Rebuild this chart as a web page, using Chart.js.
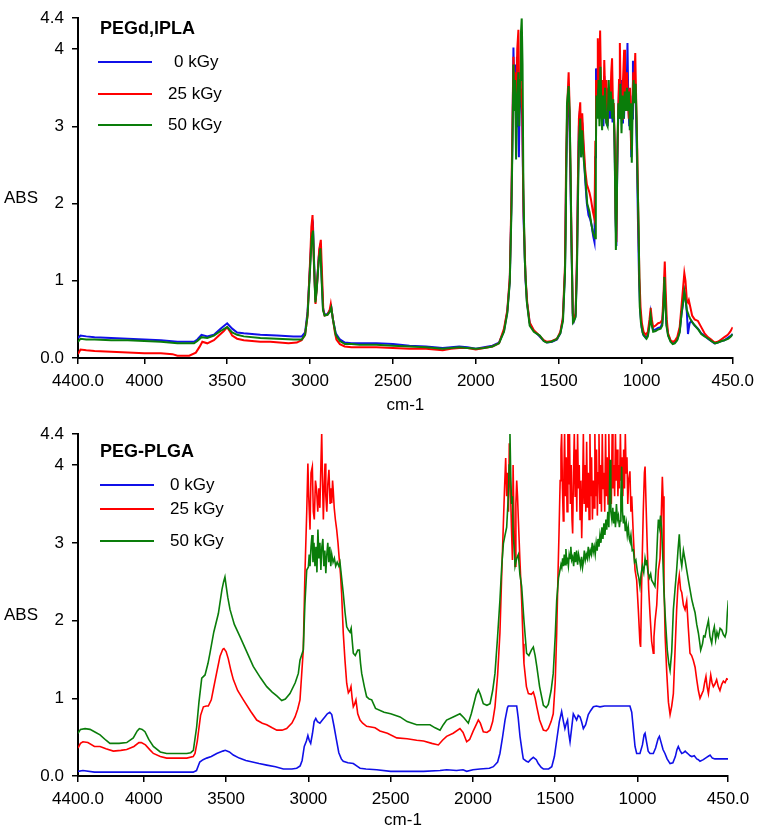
<!DOCTYPE html>
<html><head><meta charset="utf-8">
<script src="https://cdn.jsdelivr.net/npm/chart.js@4/dist/chart.umd.min.js"></script>
<style>
html,body{margin:0;padding:0;background:#fff;}
#wrap{position:relative;width:761px;height:829px;overflow:hidden;}
.panel{position:absolute;left:0;width:761px;}
</style></head><body>
<div id="wrap">
<div class="panel" style="top:0;height:414px"><canvas id="c1" width="761" height="414"></canvas></div>
<div class="panel" style="top:414px;height:415px"><canvas id="c2" width="761" height="415"></canvas></div>
</div>
<script>
// ---------- tick labels ----------
const xTicks = [4400, 4000, 3500, 3000, 2500, 2000, 1500, 1000, 450];
const xTickLabels = ["4400.0", "4000", "3500", "3000", "2500", "2000", "1500", "1000", "450.0"];
const yTicks = [0, 1, 2, 3, 4, 4.4];
const yTickLabels = ["0.0", "1", "2", "3", "4", "4.4"];
const seriesLabels = ["0 kGy", "25 kGy", "50 kGy"];
const panelTitles = ["PEGd,lPLA", "PEG-PLGA"];

// ---------- PEGd,lPLA : [wavenumber, ABS] ----------
const pegdlpla_0kGy = [[4400,0.26],[4385,0.29],[4350,0.28],[4300,0.27],[4200,0.26],[4100,0.25],[4000,0.24],[3900,0.23],[3800,0.21],[3700,0.21],[3680,0.24],[3655,0.30],[3620,0.28],[3580,0.30],[3540,0.38],[3500,0.45],[3470,0.38],[3440,0.33],[3400,0.32],[3300,0.30],[3200,0.29],[3100,0.28],[3050,0.28],[3030,0.33],[3015,0.60],[3000,1.20],[2990,1.62],[2982,1.70],[2975,1.20],[2968,0.75],[2960,0.90],[2948,1.30],[2938,1.48],[2930,1.05],[2922,0.65],[2912,0.56],[2895,0.57],[2880,0.62],[2872,0.66],[2862,0.50],[2845,0.32],[2820,0.24],[2790,0.20],[2750,0.19],[2700,0.19],[2600,0.19],[2500,0.18],[2400,0.16],[2300,0.15],[2200,0.13],[2150,0.14],[2100,0.15],[2050,0.14],[2000,0.12],[1950,0.14],[1900,0.16],[1860,0.20],[1830,0.35],[1810,0.60],[1795,1.00],[1785,2.00],[1778,3.00],[1773,4.02],[1768,3.40],[1763,3.80],[1757,3.00],[1752,3.90],[1745,3.30],[1740,2.60],[1735,3.50],[1728,3.40],[1720,3.10],[1712,1.80],[1700,1.00],[1690,0.70],[1675,0.45],[1650,0.35],[1620,0.29],[1590,0.22],[1570,0.20],[1540,0.21],[1510,0.24],[1490,0.32],[1475,0.50],[1462,1.10],[1455,2.40],[1448,3.10],[1442,3.45],[1436,3.20],[1430,2.40],[1422,1.40],[1415,0.55],[1408,0.48],[1398,0.55],[1390,1.20],[1384,2.20],[1378,3.00],[1372,3.20],[1365,2.60],[1358,3.05],[1350,2.70],[1340,2.30],[1330,2.00],[1320,1.85],[1310,1.80],[1300,1.70],[1292,1.58],[1284,1.50],[1279,2.60],[1275,3.75],[1268,3.30],[1262,3.70],[1256,3.15],[1250,3.55],[1243,3.10],[1237,3.35],[1230,3.00],[1225,3.65],[1218,3.20],[1212,3.45],[1205,3.00],[1198,3.30],[1190,3.10],[1182,3.40],[1175,3.05],[1168,3.20],[1162,2.70],[1157,1.80],[1152,1.45],[1147,2.40],[1142,3.00],[1136,3.50],[1130,3.10],[1124,3.60],[1118,3.05],[1112,3.55],[1106,3.10],[1100,3.50],[1094,3.20],[1088,3.70],[1085,4.08],[1080,3.30],[1074,3.00],[1068,3.40],[1062,2.60],[1057,3.10],[1052,3.85],[1046,3.40],[1040,3.60],[1034,3.20],[1028,2.60],[1022,1.80],[1015,1.00],[1008,0.60],[1000,0.40],[990,0.30],[975,0.26],[962,0.30],[952,0.45],[945,0.58],[938,0.45],[930,0.36],[915,0.37],[900,0.39],[885,0.40],[875,0.45],[868,0.70],[862,1.05],[857,0.80],[850,0.45],[840,0.30],[825,0.22],[812,0.19],[800,0.20],[785,0.24],[770,0.35],[760,0.55],[750,0.70],[742,0.86],[735,0.78],[727,0.60],[720,0.31],[714,0.40],[710,0.45],[700,0.48],[680,0.42],[660,0.38],[640,0.32],[620,0.29],[600,0.25],[580,0.22],[560,0.19],[540,0.20],[520,0.22],[500,0.23],[480,0.26],[460,0.29],[450,0.31]];

const pegdlpla_25kGy = [[4400,0.05],[4385,0.11],[4350,0.10],[4300,0.09],[4200,0.08],[4100,0.07],[4000,0.06],[3900,0.06],[3830,0.05],[3800,0.03],[3729,0.03],[3689,0.07],[3665,0.15],[3650,0.21],[3620,0.19],[3580,0.23],[3550,0.29],[3520,0.35],[3500,0.40],[3480,0.33],[3470,0.29],[3440,0.25],[3400,0.23],[3300,0.21],[3240,0.21],[3130,0.19],[3080,0.20],[3051,0.23],[3030,0.30],[3015,0.55],[3000,1.25],[2992,1.70],[2985,1.85],[2978,1.30],[2967,0.70],[2958,0.95],[2945,1.40],[2935,1.53],[2928,1.10],[2920,0.62],[2912,0.55],[2895,0.56],[2882,0.62],[2875,0.70],[2865,0.55],[2850,0.33],[2841,0.24],[2820,0.18],[2791,0.15],[2750,0.14],[2700,0.14],[2600,0.14],[2500,0.13],[2400,0.12],[2300,0.12],[2200,0.10],[2150,0.12],[2100,0.13],[2050,0.13],[2000,0.11],[1950,0.13],[1900,0.15],[1860,0.19],[1830,0.38],[1810,0.62],[1795,1.05],[1785,2.10],[1778,3.20],[1773,3.90],[1768,3.60],[1763,3.70],[1757,3.20],[1750,4.00],[1743,4.25],[1738,3.40],[1733,3.70],[1728,3.50],[1720,3.20],[1712,1.90],[1700,1.05],[1690,0.72],[1675,0.46],[1650,0.36],[1620,0.30],[1590,0.23],[1570,0.21],[1540,0.22],[1510,0.25],[1490,0.34],[1475,0.52],[1462,1.20],[1455,2.60],[1448,3.30],[1440,3.70],[1436,3.40],[1430,2.60],[1422,1.50],[1415,0.58],[1408,0.50],[1398,0.58],[1390,1.30],[1384,2.30],[1378,3.10],[1370,3.31],[1365,2.80],[1358,3.17],[1350,2.80],[1340,2.44],[1330,2.25],[1314,2.14],[1305,2.05],[1294,1.90],[1284,1.80],[1279,2.80],[1275,3.60],[1268,3.50],[1264,4.14],[1258,3.40],[1250,4.24],[1243,3.30],[1237,3.60],[1230,3.10],[1225,3.86],[1218,3.30],[1212,3.60],[1205,3.05],[1198,3.50],[1190,3.20],[1183,3.70],[1178,3.88],[1172,3.20],[1168,3.30],[1162,2.80],[1157,1.90],[1152,1.50],[1147,2.50],[1142,3.10],[1136,3.60],[1131,4.08],[1125,3.30],[1118,3.10],[1112,3.60],[1105,3.99],[1100,3.30],[1094,3.20],[1088,3.70],[1083,3.40],[1077,3.10],[1070,3.50],[1063,2.70],[1057,3.20],[1050,3.70],[1045,3.50],[1038,3.95],[1032,3.30],[1026,2.70],[1020,1.90],[1013,1.05],[1006,0.65],[998,0.45],[988,0.34],[975,0.30],[962,0.34],[952,0.50],[945,0.65],[938,0.50],[930,0.40],[915,0.42],[900,0.45],[885,0.46],[875,0.50],[868,0.80],[860,1.25],[855,0.90],[848,0.50],[840,0.32],[825,0.23],[812,0.21],[800,0.22],[785,0.27],[770,0.40],[760,0.65],[750,0.90],[742,1.10],[735,1.00],[727,0.75],[720,0.72],[715,0.75],[705,0.65],[695,0.55],[680,0.50],[660,0.48],[640,0.40],[620,0.32],[600,0.27],[580,0.24],[560,0.20],[540,0.21],[520,0.24],[500,0.27],[480,0.30],[465,0.34],[450,0.40]];

const pegdlpla_50kGy = [[4400,0.21],[4385,0.25],[4350,0.24],[4300,0.24],[4200,0.23],[4100,0.23],[4000,0.22],[3900,0.21],[3800,0.19],[3700,0.19],[3680,0.22],[3655,0.27],[3620,0.26],[3580,0.29],[3540,0.35],[3500,0.40],[3470,0.33],[3440,0.30],[3400,0.28],[3300,0.26],[3200,0.25],[3100,0.24],[3050,0.24],[3030,0.30],[3015,0.55],[3000,1.15],[2990,1.55],[2982,1.65],[2975,1.15],[2968,0.72],[2960,0.88],[2948,1.25],[2938,1.42],[2930,1.00],[2922,0.62],[2912,0.55],[2895,0.56],[2880,0.60],[2872,0.65],[2862,0.50],[2845,0.30],[2820,0.22],[2790,0.18],[2750,0.18],[2700,0.17],[2600,0.17],[2500,0.16],[2400,0.15],[2300,0.14],[2200,0.12],[2150,0.13],[2100,0.14],[2050,0.13],[2000,0.12],[1950,0.13],[1900,0.15],[1860,0.19],[1830,0.34],[1810,0.58],[1795,0.98],[1785,1.90],[1778,2.90],[1773,3.80],[1768,3.20],[1763,3.60],[1757,2.57],[1750,3.40],[1743,3.70],[1738,3.00],[1733,3.60],[1728,4.20],[1723,4.40],[1718,3.80],[1713,2.20],[1705,1.30],[1693,0.74],[1675,0.42],[1650,0.34],[1614,0.29],[1590,0.22],[1574,0.20],[1545,0.21],[1514,0.24],[1490,0.32],[1474,0.48],[1462,1.10],[1458,1.59],[1450,3.29],[1440,3.52],[1434,3.20],[1428,2.40],[1424,1.60],[1414,0.46],[1408,0.48],[1398,0.53],[1390,1.10],[1384,2.00],[1378,2.80],[1370,3.10],[1364,2.60],[1358,2.95],[1350,2.60],[1338,2.30],[1328,2.00],[1314,1.89],[1304,1.75],[1294,1.63],[1286,1.58],[1280,1.55],[1276,2.60],[1272,3.40],[1266,3.10],[1260,3.60],[1254,3.00],[1248,3.77],[1242,3.20],[1238,2.95],[1232,3.40],[1226,3.10],[1220,3.50],[1214,3.05],[1205,3.00],[1198,3.60],[1192,3.20],[1185,3.45],[1178,3.10],[1171,3.35],[1164,2.89],[1158,2.00],[1155,1.40],[1150,1.90],[1145,2.78],[1140,3.30],[1134,3.10],[1128,3.55],[1121,2.91],[1115,3.40],[1108,3.10],[1101,3.45],[1095,3.20],[1088,3.50],[1082,3.20],[1076,3.45],[1071,2.95],[1065,3.30],[1059,2.53],[1054,3.20],[1048,3.60],[1042,3.30],[1036,3.55],[1030,3.10],[1025,2.40],[1018,1.70],[1011,0.67],[1004,0.46],[994,0.33],[985,0.29],[970,0.25],[962,0.28],[952,0.42],[945,0.55],[938,0.42],[930,0.34],[915,0.35],[900,0.37],[885,0.38],[875,0.42],[868,0.65],[862,1.05],[857,0.75],[850,0.42],[840,0.29],[825,0.21],[812,0.18],[800,0.19],[785,0.23],[770,0.33],[759,0.57],[750,0.72],[742,0.86],[735,0.76],[727,0.62],[715,0.55],[705,0.50],[690,0.45],[670,0.40],[655,0.36],[640,0.31],[620,0.28],[596,0.25],[580,0.22],[556,0.19],[540,0.20],[516,0.22],[500,0.23],[476,0.25],[460,0.28],[450,0.31]];

// ---------- PEG-PLGA : [wavenumber, ABS] ----------
const pegplga_0kGy = [[4400,0.06],[4370,0.07],[4300,0.05],[4200,0.05],[4000,0.05],[3800,0.05],[3700,0.05],[3680,0.07],[3660,0.18],[3640,0.21],[3618,0.23],[3590,0.25],[3557,0.29],[3520,0.32],[3505,0.33],[3480,0.31],[3456,0.27],[3420,0.23],[3380,0.20],[3340,0.18],[3300,0.16],[3253,0.14],[3200,0.12],[3152,0.09],[3100,0.09],[3071,0.10],[3050,0.13],[3038,0.20],[3025,0.38],[3012,0.45],[3003,0.52],[2995,0.46],[2986,0.42],[2975,0.55],[2965,0.70],[2955,0.74],[2945,0.70],[2930,0.68],[2915,0.72],[2900,0.76],[2885,0.80],[2870,0.82],[2858,0.79],[2845,0.65],[2830,0.47],[2815,0.30],[2800,0.22],[2788,0.19],[2760,0.17],[2727,0.16],[2700,0.12],[2686,0.10],[2650,0.09],[2585,0.08],[2500,0.06],[2400,0.06],[2300,0.06],[2200,0.07],[2160,0.08],[2100,0.07],[2060,0.08],[2038,0.06],[2000,0.08],[1957,0.09],[1900,0.10],[1876,0.12],[1850,0.18],[1836,0.29],[1820,0.50],[1805,0.72],[1790,0.88],[1785,0.90],[1760,0.90],[1734,0.90],[1725,0.75],[1714,0.51],[1700,0.30],[1694,0.22],[1675,0.19],[1663,0.18],[1650,0.21],[1633,0.24],[1615,0.21],[1603,0.16],[1585,0.11],[1572,0.09],[1540,0.09],[1521,0.12],[1505,0.25],[1491,0.46],[1475,0.70],[1461,0.83],[1450,0.70],[1441,0.61],[1432,0.68],[1425,0.72],[1418,0.55],[1410,0.44],[1400,0.62],[1390,0.80],[1380,0.76],[1370,0.72],[1360,0.78],[1349,0.76],[1340,0.70],[1329,0.61],[1315,0.66],[1299,0.79],[1285,0.84],[1268,0.89],[1250,0.90],[1228,0.89],[1200,0.90],[1150,0.90],[1100,0.90],[1070,0.90],[1046,0.90],[1035,0.82],[1025,0.60],[1015,0.38],[1005,0.29],[985,0.29],[970,0.40],[960,0.53],[954,0.55],[945,0.44],[935,0.32],[924,0.29],[904,0.29],[890,0.36],[875,0.48],[867,0.51],[855,0.42],[845,0.34],[833,0.29],[820,0.22],[802,0.16],[785,0.17],[770,0.25],[760,0.34],[752,0.38],[742,0.33],[731,0.29],[720,0.30],[710,0.32],[701,0.30],[690,0.28],[680,0.26],[670,0.25],[655,0.26],[640,0.22],[630,0.21],[620,0.19],[600,0.21],[580,0.24],[565,0.26],[559,0.27],[545,0.23],[530,0.22],[500,0.22],[448,0.22]];

const pegplga_25kGy = [[4400,0.36],[4385,0.42],[4370,0.44],[4340,0.43],[4300,0.38],[4266,0.38],[4230,0.35],[4185,0.32],[4140,0.33],[4104,0.34],[4060,0.38],[4030,0.43],[4015,0.43],[3990,0.40],[3960,0.33],[3942,0.29],[3900,0.25],[3861,0.23],[3800,0.23],[3739,0.23],[3700,0.25],[3689,0.29],[3675,0.45],[3669,0.55],[3655,0.78],[3638,0.89],[3620,0.90],[3608,0.90],[3590,0.98],[3578,1.11],[3560,1.30],[3537,1.54],[3520,1.63],[3513,1.64],[3500,1.60],[3487,1.51],[3470,1.35],[3456,1.24],[3430,1.10],[3395,0.98],[3350,0.83],[3314,0.72],[3280,0.68],[3253,0.66],[3220,0.62],[3192,0.59],[3160,0.59],[3132,0.61],[3100,0.68],[3081,0.76],[3065,0.86],[3051,0.98],[3041,1.30],[3031,1.62],[3021,2.60],[3010,3.40],[3003,4.02],[2998,3.60],[2990,3.17],[2984,3.90],[2976,3.98],[2970,3.40],[2964,3.30],[2957,3.80],[2950,3.68],[2943,3.40],[2936,3.70],[2930,3.45],[2924,4.00],[2919,4.41],[2914,3.80],[2909,3.30],[2904,3.70],[2899,4.02],[2894,3.60],[2888,3.40],[2882,3.75],[2875,3.94],[2868,3.50],[2862,3.70],[2858,3.51],[2853,3.80],[2849,3.68],[2843,3.45],[2836,3.30],[2828,3.17],[2820,3.00],[2812,2.78],[2805,2.60],[2798,2.35],[2788,1.84],[2778,1.50],[2767,1.19],[2757,1.07],[2748,1.10],[2741,1.15],[2734,1.00],[2727,0.89],[2720,0.92],[2711,0.98],[2700,0.80],[2686,0.72],[2670,0.68],[2646,0.64],[2620,0.63],[2595,0.62],[2565,0.58],[2520,0.55],[2463,0.49],[2400,0.48],[2342,0.46],[2300,0.45],[2250,0.42],[2210,0.40],[2185,0.46],[2160,0.51],[2120,0.55],[2079,0.61],[2060,0.56],[2038,0.44],[2020,0.47],[1998,0.58],[1980,0.66],[1967,0.72],[1955,0.68],[1937,0.57],[1915,0.56],[1896,0.59],[1880,0.70],[1866,0.89],[1850,1.30],[1836,1.84],[1825,2.60],[1815,3.25],[1808,3.70],[1801,4.09],[1795,3.60],[1790,3.90],[1784,3.40],[1779,4.28],[1772,3.70],[1766,3.20],[1760,2.78],[1756,4.00],[1750,3.20],[1744,2.70],[1739,3.50],[1734,3.80],[1729,3.60],[1724,3.30],[1715,2.80],[1704,2.26],[1695,1.70],[1690,1.45],[1675,1.15],[1663,1.06],[1645,1.05],[1633,1.08],[1622,1.00],[1612,0.89],[1595,0.72],[1572,0.59],[1555,0.58],[1542,0.61],[1525,0.70],[1512,0.80],[1500,1.20],[1491,1.84],[1483,2.60],[1477,3.12],[1470,3.80],[1465,4.20],[1461,4.41],[1456,3.70],[1451,3.28],[1447,3.90],[1443,4.41],[1438,3.60],[1433,4.10],[1428,3.40],[1423,4.41],[1418,3.75],[1413,4.41],[1408,3.50],[1403,4.00],[1398,3.30],[1394,3.12],[1389,3.90],[1384,4.41],[1379,3.60],[1374,4.20],[1369,3.40],[1364,4.41],[1359,3.70],[1354,4.00],[1349,3.30],[1344,3.80],[1339,3.06],[1334,3.60],[1329,4.41],[1324,3.50],[1319,4.00],[1314,3.40],[1309,4.30],[1304,3.45],[1299,3.90],[1294,3.30],[1289,4.41],[1284,3.60],[1279,4.10],[1274,3.30],[1269,3.80],[1264,3.45],[1259,4.41],[1254,3.60],[1249,4.20],[1244,3.35],[1239,3.90],[1234,4.41],[1229,3.50],[1224,4.00],[1219,3.40],[1214,4.41],[1209,3.70],[1204,3.90],[1199,3.40],[1194,4.41],[1189,3.60],[1184,4.10],[1179,3.50],[1174,4.41],[1169,3.60],[1164,3.90],[1159,3.50],[1154,4.41],[1149,3.70],[1144,4.00],[1139,3.60],[1134,4.41],[1129,3.80],[1124,4.20],[1119,3.60],[1114,4.00],[1109,3.70],[1104,4.41],[1099,3.80],[1094,4.10],[1089,3.60],[1084,4.20],[1079,3.70],[1074,4.41],[1069,3.90],[1064,4.10],[1059,3.50],[1054,3.80],[1046,3.92],[1040,3.40],[1035,3.60],[1025,3.08],[1015,2.65],[1005,2.52],[995,2.14],[985,1.71],[981,1.66],[975,2.44],[965,3.40],[958,3.90],[954,3.98],[948,3.50],[940,2.90],[932,2.40],[924,2.08],[914,1.73],[904,1.58],[900,1.79],[893,2.00],[883,2.20],[873,2.65],[863,2.80],[855,3.40],[849,3.85],[845,3.60],[839,2.50],[832,1.80],[822,1.32],[812,0.95],[802,0.79],[792,0.90],[782,1.06],[772,1.60],[762,2.14],[754,2.45],[746,2.58],[738,2.40],[731,2.36],[721,2.20],[711,2.14],[701,2.25],[691,1.90],[681,1.58],[671,1.55],[661,1.49],[650,1.40],[640,1.24],[630,1.10],[620,1.00],[610,1.05],[600,1.10],[592,1.20],[584,1.28],[577,1.15],[569,1.06],[562,1.18],[555,1.30],[547,1.20],[539,1.15],[530,1.18],[519,1.24],[509,1.15],[499,1.10],[488,1.18],[478,1.22],[468,1.20],[458,1.25],[448,1.24]];

const pegplga_50kGy = [[4400,0.55],[4385,0.60],[4357,0.61],[4327,0.60],[4300,0.57],[4266,0.53],[4230,0.46],[4206,0.42],[4150,0.42],[4104,0.43],[4064,0.49],[4040,0.58],[4027,0.61],[4010,0.60],[3993,0.57],[3970,0.47],[3942,0.38],[3900,0.31],[3861,0.29],[3800,0.29],[3739,0.29],[3715,0.30],[3699,0.33],[3679,0.63],[3665,0.95],[3648,1.26],[3628,1.30],[3610,1.45],[3598,1.58],[3575,1.85],[3547,2.09],[3525,2.40],[3515,2.50],[3507,2.56],[3500,2.45],[3490,2.30],[3476,2.14],[3450,1.95],[3415,1.79],[3375,1.60],[3335,1.41],[3290,1.26],[3253,1.15],[3220,1.08],[3192,1.03],[3162,0.97],[3140,0.99],[3112,1.06],[3080,1.20],[3061,1.32],[3051,1.49],[3031,1.62],[3021,2.22],[3010,2.65],[3000,2.69],[2995,2.85],[2990,2.70],[2984,2.95],[2978,3.10],[2972,2.75],[2966,3.00],[2960,2.70],[2954,2.95],[2948,2.62],[2942,3.17],[2936,2.80],[2930,3.00],[2924,2.65],[2918,2.95],[2912,3.05],[2906,2.70],[2900,2.90],[2894,2.61],[2888,2.85],[2882,3.00],[2876,2.75],[2870,2.95],[2864,2.70],[2858,2.85],[2850,2.75],[2842,2.80],[2834,2.70],[2825,2.75],[2815,2.70],[2808,2.75],[2798,2.55],[2788,2.35],[2777,2.10],[2767,1.92],[2757,1.88],[2747,1.85],[2740,1.90],[2734,1.75],[2727,1.58],[2715,1.55],[2700,1.62],[2690,1.62],[2683,1.45],[2676,1.32],[2660,1.15],[2646,1.02],[2630,0.99],[2615,0.98],[2592,0.87],[2540,0.82],[2500,0.80],[2443,0.76],[2400,0.70],[2342,0.66],[2300,0.66],[2261,0.66],[2230,0.62],[2200,0.59],[2180,0.66],[2160,0.72],[2120,0.76],[2079,0.80],[2055,0.75],[2028,0.68],[2010,0.80],[1998,0.90],[1980,1.05],[1967,1.11],[1955,1.05],[1937,0.93],[1915,0.91],[1896,0.93],[1880,1.10],[1866,1.32],[1850,1.80],[1836,2.26],[1825,2.70],[1815,2.99],[1805,3.10],[1795,3.20],[1785,3.60],[1780,4.00],[1775,4.41],[1770,3.85],[1765,3.50],[1760,3.60],[1756,3.12],[1750,2.95],[1744,2.70],[1734,2.80],[1724,2.85],[1715,2.60],[1704,2.44],[1690,2.00],[1674,1.58],[1660,1.55],[1645,1.62],[1633,1.66],[1622,1.55],[1612,1.41],[1595,1.15],[1572,0.91],[1555,0.88],[1542,0.92],[1525,1.10],[1512,1.32],[1500,1.80],[1491,2.26],[1480,2.55],[1471,2.65],[1465,2.72],[1460,2.68],[1455,2.80],[1450,2.70],[1445,2.85],[1440,2.72],[1435,2.92],[1430,2.75],[1425,2.78],[1420,2.70],[1415,2.85],[1410,2.80],[1405,2.95],[1400,2.78],[1394,2.82],[1388,2.70],[1382,2.88],[1376,2.75],[1370,2.90],[1364,2.72],[1358,2.85],[1352,2.78],[1346,2.70],[1340,2.82],[1334,2.68],[1329,2.75],[1323,2.90],[1317,2.78],[1311,2.85],[1305,2.80],[1299,2.95],[1293,2.82],[1287,2.90],[1281,2.85],[1275,3.00],[1269,2.88],[1263,2.95],[1257,2.85],[1251,3.00],[1245,2.90],[1240,3.05],[1234,2.95],[1228,3.10],[1222,3.00],[1216,3.20],[1210,3.05],[1204,3.25],[1198,3.10],[1192,3.30],[1187,3.17],[1180,3.40],[1174,3.20],[1167,4.07],[1162,3.40],[1156,3.30],[1150,3.45],[1145,3.25],[1140,3.40],[1134,3.20],[1128,3.50],[1122,3.30],[1116,3.35],[1110,3.20],[1106,3.28],[1101,3.60],[1096,3.98],[1091,3.40],[1086,3.25],[1080,3.35],[1074,3.15],[1068,3.25],[1062,3.10],[1056,3.20],[1050,3.05],[1046,3.02],[1040,3.10],[1032,2.90],[1025,2.91],[1018,2.75],[1010,2.78],[1000,2.62],[992,2.55],[985,2.44],[978,2.60],[970,2.70],[962,2.62],[954,2.80],[948,2.72],[944,2.78],[936,2.62],[928,2.55],[920,2.60],[914,2.52],[904,2.48],[894,2.44],[884,2.80],[878,3.10],[873,3.30],[866,3.20],[860,3.35],[853,3.17],[846,2.80],[839,2.36],[830,2.00],[819,1.62],[810,1.45],[802,1.36],[792,1.60],[782,2.14],[772,2.40],[762,2.65],[754,2.90],[746,3.11],[738,2.80],[731,2.70],[721,2.90],[711,2.78],[701,2.65],[691,2.52],[681,2.40],[670,2.27],[660,2.18],[650,2.10],[640,1.95],[630,1.84],[622,1.72],[616,1.62],[605,1.70],[598,1.80],[590,1.79],[580,1.90],[569,2.00],[560,1.80],[549,1.71],[541,1.85],[533,1.92],[525,1.75],[517,1.85],[509,1.79],[498,1.90],[488,1.88],[478,1.82],[468,1.79],[460,1.85],[454,2.10],[448,2.26]];

// ---------- styling ----------
const seriesColors = ["#1010e8", "#ff0000", "#0a7d0a"];
const FONT = '"Liberation Sans", Arial, Helvetica, sans-serif';

const decor = {
  id: 'decor',
  afterDraw(chart, args, o) {
    const ctx = chart.ctx, ys = chart.scales.y;
    ctx.save();
    ctx.fillStyle = '#000';
    ctx.textBaseline = 'middle';
    ctx.textAlign = 'left';
    ctx.font = '17px ' + FONT;
    ctx.fillText('ABS', o.absX, ys.getPixelForValue(2) - 5);
    ctx.font = 'bold 18px ' + FONT;
    ctx.fillText(o.title, o.titleX, o.titleY);
    chart.data.datasets.forEach((ds, i) => {
      const y = o.legendY[i];
      ctx.strokeStyle = ds.borderColor;
      ctx.lineWidth = 2;
      ctx.beginPath(); ctx.moveTo(o.lx1, y); ctx.lineTo(o.lx2, y); ctx.stroke();
      ctx.font = '17px ' + FONT;
      ctx.fillText(ds.label, o.textX[i], y);
    });
    ctx.restore();
  }
};

function pts(arr) { return arr.map(p => ({x: p[0], y: p[1]})); }

function makeChart(id, series, lw, layoutPad, xAxisH, decorOpts) {
  const datasets = series.map((s, i) => ({
    label: seriesLabels[i],
    data: pts(s),
    borderColor: seriesColors[i],
    borderWidth: lw,
    pointRadius: 0,
    tension: 0,
    fill: false,
    order: 2 - i
  }));
  return new Chart(document.getElementById(id), {
    type: 'line',
    data: { datasets },
    plugins: [decor],
    options: {
      responsive: false,
      animation: false,
      devicePixelRatio: 1,
      parsing: false,
      layout: { padding: layoutPad },
      plugins: { legend: { display: false }, tooltip: { enabled: false }, decor: decorOpts },
      scales: {
        x: {
          type: 'linear', reverse: true, min: 450, max: 4400,
          afterBuildTicks: s => { s.ticks = xTicks.map(v => ({value: v})); },
          afterFit: s => { s.height = xAxisH; },
          ticks: { autoSkip: false, maxRotation: 0, callback: (v, i) => xTickLabels[i],
                   font: { family: FONT, size: 17 }, color: '#000', padding: 7 },
          grid: { drawOnChartArea: false, drawTicks: true, tickLength: 6, color: '#000', lineWidth: 1.5 },
          border: { display: true, color: '#000', width: 2 },
          title: { display: true, text: 'cm-1', color: '#000', font: { family: FONT, size: 17, lineHeight: 1 }, padding: { top: 0, bottom: 0 } }
        },
        y: {
          type: 'linear', min: 0, max: 4.4,
          afterBuildTicks: s => { s.ticks = yTicks.map(v => ({value: v})); },
          afterFit: s => { s.width = 78; },
          ticks: { callback: (v, i) => yTickLabels[i], font: { family: FONT, size: 17 }, color: '#000', padding: 8 },
          grid: { drawOnChartArea: false, drawTicks: true, tickLength: 6, color: '#000', lineWidth: 1.5 },
          border: { display: true, color: '#000', width: 2 }
        }
      }
    }
  });
}

makeChart('c1', [pegdlpla_0kGy, pegdlpla_25kGy, pegdlpla_50kGy], 2,
  { left: 0, top: 13, right: 23, bottom: 0 }, 56,
  { title: panelTitles[0], titleX: 100, titleY: 29, absX: 4, legendY: [62, 94, 125], lx1: 98, lx2: 152, textX: [174, 168, 168] });

makeChart('c2', [pegplga_0kGy, pegplga_25kGy, pegplga_50kGy], 1.6,
  { left: 0, top: 20, right: 33, bottom: 0 }, 53,
  { title: panelTitles[1], titleX: 100, titleY: 38, absX: 4, legendY: [71, 95, 127], lx1: 100, lx2: 154, textX: [170, 170, 170] });
</script>
</body></html>
